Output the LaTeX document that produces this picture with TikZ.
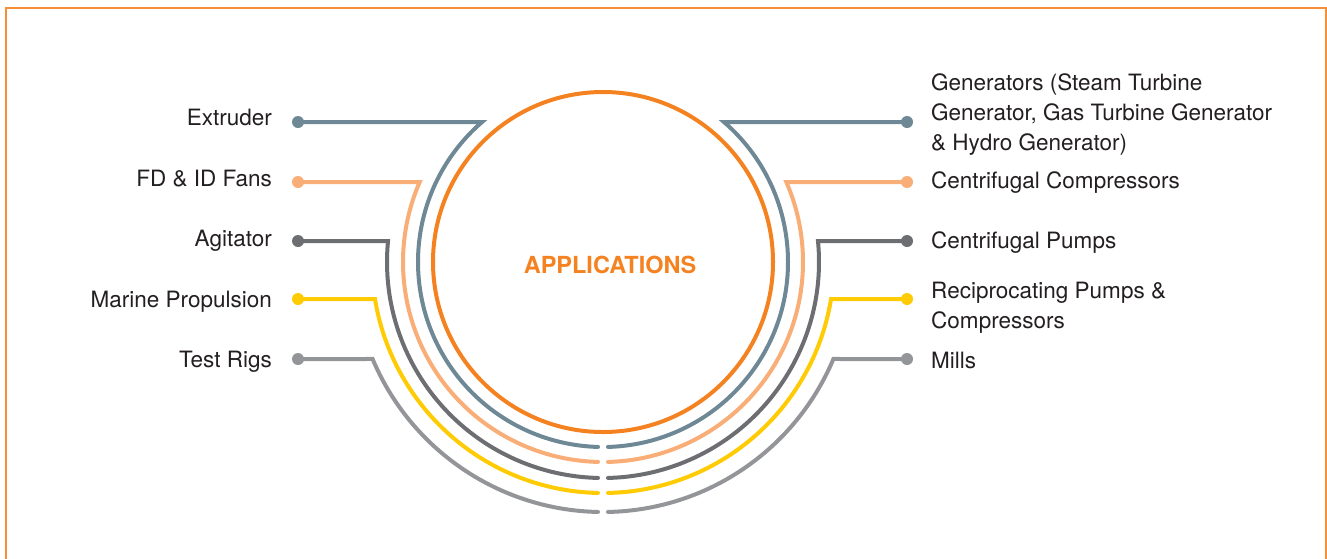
\documentclass[tikz,border=0pt]{standalone}
\usepackage{fontspec}
\setmainfont{TeX Gyre Heros}
\usetikzlibrary{calc}

\definecolor{appOrange}{HTML}{F58220}
\definecolor{lineBlue}{HTML}{6F8896}
\definecolor{lineSalmon}{HTML}{F9AD77}
\definecolor{lineDark}{HTML}{6D6E71}
\definecolor{lineYellow}{HTML}{FFCB05}
\definecolor{lineGray}{HTML}{939598}
\definecolor{textBlack}{HTML}{231F20}

\begin{document}
\begin{tikzpicture}[x=1pt, y=1pt,
  dot/.style={circle, fill=#1, inner sep=0pt, minimum size=12pt},
  wire/.style={line width=4pt, draw=#1, line cap=round, line join=miter},
  appl/.style={font=\fontsize{22.5}{30}\selectfont, text=textBlack, inner sep=0pt}]
  \useasboundingbox (0,0) rectangle (1327,-558);
  \draw[appOrange!90, line width=2pt] (6,-600) -- (6,-8) -- (1326,-8) -- (1326,-600);
  \coordinate (hub) at (603,-262);
  \node[circle, draw=appOrange, line width=4pt, minimum size=340pt, inner sep=0pt] (core) at (hub) {};
  \node[font=\fontsize{23.5}{23.5}\selectfont\bfseries, text=appOrange] (title) at (610,-265) {APPLICATIONS};
  % wires: dot -- horizontal -- arc round the hub, split at the bottom
  \foreach \i/\row/\rad/\col in {1/122/185/lineBlue, 2/182/200/lineSalmon, 3/241/216/lineDark,
                                 4/299/231/lineYellow, 5/359/250/lineGray}{
    \node[dot=\col] (l\i) at (298,-\row) {};
    \node[dot=\col] (r\i) at (907,-\row) {};
    \pgfmathsetmacro\tilt{asin((262-\row)/\rad)}
    \pgfmathsetmacro\lang{180-\tilt}
    \pgfmathsetmacro\gap{286.5/\rad}
    \draw[wire=\col] (l\i.center) -- ($(hub)+(\lang:\rad)$)
      arc[start angle=\lang, end angle=270-\gap, radius=\rad];
    \draw[wire=\col] (r\i.center) -- ($(hub)+(\tilt:\rad)$)
      arc[start angle=\tilt, end angle=-90+\gap, radius=\rad];
  }
  % left labels
  \node[appl, anchor=base east] (extruder) at (272,-125) {Extruder};
  \node[appl, anchor=base east] (fans) at (272,-186) {FD \& ID Fans};
  \node[appl, anchor=base east] (agitator) at (272,-246) {Agitator};
  \node[appl, anchor=base east] (marine) at (272,-307) {Marine Propulsion};
  \node[appl, anchor=base east] (rigs) at (272,-367) {Test Rigs};
  % right labels (base = last line)
  \node[appl, anchor=base west, align=left] (generators) at (931,-150)
    {Generators (Steam Turbine\\Generator, Gas Turbine Generator\\\& Hydro Generator)};
  \node[appl, anchor=base west] (compressors) at (931,-188) {Centrifugal Compressors};
  \node[appl, anchor=base west] (pumps) at (931,-248) {Centrifugal Pumps};
  \node[appl, anchor=base west, align=left] (recip) at (931,-328)
    {Reciprocating Pumps \&\\Compressors};
  \node[appl, anchor=base west] (mills) at (931,-368) {Mills};
\end{tikzpicture}
\end{document}
